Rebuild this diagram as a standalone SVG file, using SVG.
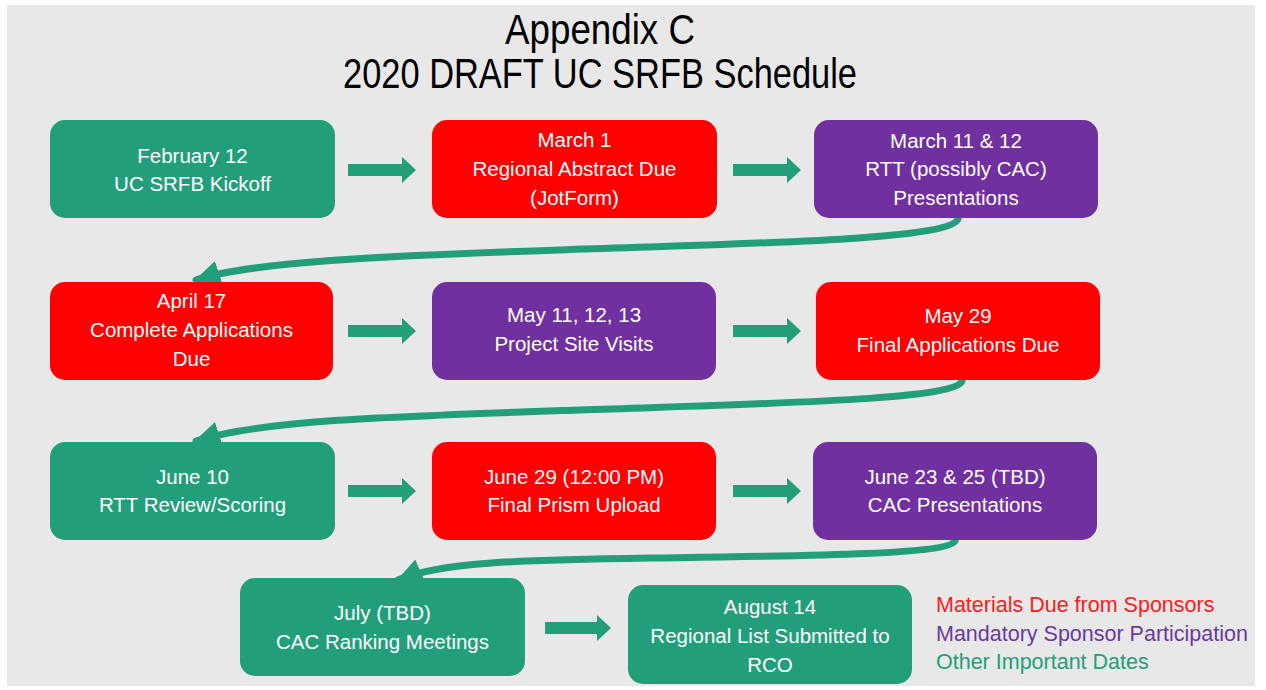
<svg xmlns="http://www.w3.org/2000/svg" width="1266" height="690" viewBox="0 0 1266 690">
<defs>
<style>
.box{stroke:none}
.g{fill:#229f7a}
.r{fill:#ff0000}
.p{fill:#7030a0}
.t{font-family:"Liberation Sans",Arial,sans-serif;font-size:20.5px;fill:#ffffff;text-anchor:middle}
.title{font-family:"Liberation Sans",Arial,sans-serif;font-size:42px;fill:#000000;text-anchor:middle}
.curve{fill:none;stroke:#229f7a;stroke-width:7;stroke-linecap:round}
.blk{fill:#229f7a}
.leg{font-family:"Liberation Sans",Arial,sans-serif;font-size:21.5px}
</style>
<marker id="ah" markerUnits="userSpaceOnUse" markerWidth="28" markerHeight="24" refX="24" refY="12" orient="auto">
<path d="M0,0 L26,12 L0,24 Z" fill="#229f7a"/>
</marker>
</defs>
<rect x="0" y="0" width="1266" height="690" fill="#ffffff"/>
<rect x="7" y="5" width="1248" height="681" fill="#e9e8e8"/>
<g id="title">
<text class="title" x="600" y="44" textLength="190" lengthAdjust="spacingAndGlyphs">Appendix C</text>
<text class="title" x="600" y="88" textLength="514" lengthAdjust="spacingAndGlyphs">2020 DRAFT UC SRFB Schedule</text>
</g>
<g id="connectors">
<polygon class="blk" points="348,164 402,164 402,157 416,170 402,183 402,176 348,176"/>
<polygon class="blk" points="733,164 787,164 787,157 801,170 787,183 787,176 733,176"/>
<polygon class="blk" points="348,325 402,325 402,318 416,331 402,344 402,337 348,337"/>
<polygon class="blk" points="733,325 787,325 787,318 801,331 787,344 787,337 733,337"/>
<polygon class="blk" points="348,485 402,485 402,478 416,491 402,504 402,497 348,497"/>
<polygon class="blk" points="733,485 787,485 787,478 801,491 787,504 787,497 733,497"/>
<polygon class="blk" points="545,622 597,622 597,615 611,628 597,641 597,634 545,634"/>
<path class="curve" marker-end="url(#ah)" d="M958,219 C950,240 760,243 560,250 C380,256 250,262 196,280"/>
<path class="curve" marker-end="url(#ah)" d="M962,381 C955,400 780,403 580,410 C400,416 260,420 196,441"/>
<path class="curve" marker-end="url(#ah)" d="M955,541 C948,555 800,556 650,558 C520,560 440,562 398,580"/>
</g>
<g id="n1"><rect class="box g" x="50" y="120" width="285" height="98" rx="15"/>
<text class="t" x="192.5" y="163">February 12</text><text class="t" x="192.5" y="191">UC SRFB Kickoff</text></g>
<g id="n2"><rect class="box r" x="432" y="120" width="285" height="98" rx="15"/>
<text class="t" x="574.5" y="147">March 1</text><text class="t" x="574.5" y="176">Regional Abstract Due</text><text class="t" x="574.5" y="205">(JotForm)</text></g>
<g id="n3"><rect class="box p" x="814" y="120" width="284" height="98" rx="15"/>
<text class="t" x="956" y="148">March 11 &amp; 12</text><text class="t" x="956" y="176">RTT (possibly CAC)</text><text class="t" x="956" y="205">Presentations</text></g>
<g id="n4"><rect class="box r" x="50" y="282" width="283" height="98" rx="15"/>
<text class="t" x="191.5" y="308">April 17</text><text class="t" x="191.5" y="337">Complete Applications</text><text class="t" x="191.5" y="366">Due</text></g>
<g id="n5"><rect class="box p" x="432" y="282" width="284" height="98" rx="15"/>
<text class="t" x="574" y="322">May 11, 12, 13</text><text class="t" x="574" y="351">Project Site Visits</text></g>
<g id="n6"><rect class="box r" x="816" y="282" width="284" height="98" rx="15"/>
<text class="t" x="958" y="323">May 29</text><text class="t" x="958" y="352">Final Applications Due</text></g>
<g id="n7"><rect class="box g" x="50" y="442" width="285" height="98" rx="15"/>
<text class="t" x="192.5" y="484">June 10</text><text class="t" x="192.5" y="512">RTT Review/Scoring</text></g>
<g id="n8"><rect class="box r" x="432" y="442" width="284" height="98" rx="15"/>
<text class="t" x="574" y="484">June 29 (12:00 PM)</text><text class="t" x="574" y="512">Final Prism Upload</text></g>
<g id="n9"><rect class="box p" x="813" y="442" width="284" height="98" rx="15"/>
<text class="t" x="955" y="484">June 23 &amp; 25 (TBD)</text><text class="t" x="955" y="512">CAC Presentations</text></g>
<g id="n10"><rect class="box g" x="240" y="578" width="285" height="98" rx="15"/>
<text class="t" x="382.5" y="620">July (TBD)</text><text class="t" x="382.5" y="649">CAC Ranking Meetings</text></g>
<g id="n11"><rect class="box g" x="628" y="585" width="284" height="99" rx="15"/>
<text class="t" x="770" y="614">August 14</text><text class="t" x="770" y="643">Regional List Submitted to</text><text class="t" x="770" y="672">RCO</text></g>
<g id="legend">
<text class="leg" x="936" y="612" fill="#ff1a1a">Materials Due from Sponsors</text>
<text class="leg" x="936" y="641" fill="#6a3aa0">Mandatory Sponsor Participation</text>
<text class="leg" x="936" y="669" fill="#229f7a">Other Important Dates</text>
</g>
<rect x="1255" y="0" width="11" height="690" fill="#ffffff"/>
</svg>
